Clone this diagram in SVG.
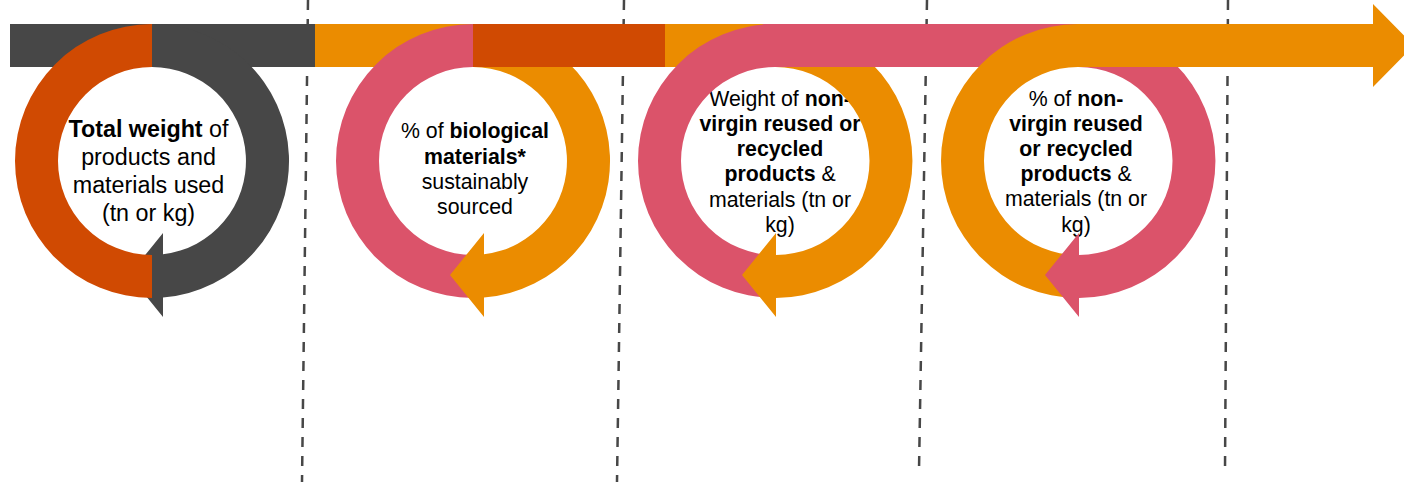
<svg xmlns="http://www.w3.org/2000/svg" width="1404" height="488" viewBox="0 0 1404 488">
<style>
.dash{stroke:#474747;stroke-width:2.5;stroke-dasharray:10 9;fill:none}
.dk{fill:#474747}
.ro{fill:#D04A02}
.or{fill:#EB8C00}
.pk{fill:#DB536A}
.t{font-family:"Liberation Sans",Arial,Helvetica,sans-serif;fill:#000;text-anchor:middle}
.t1{font-size:23.3px}
.t2{font-size:21.3px}
.b{font-weight:bold}
</style>
<rect width="1404" height="488" fill="#fff"/>
<g id="separators">
<line class="dash" x1="308" y1="0" x2="302" y2="482"/>
<line class="dash" x1="624" y1="0" x2="617" y2="482"/>
<line class="dash" x1="927" y1="0" x2="919" y2="470"/>
<line class="dash" x1="1228" y1="0" x2="1225" y2="470"/>
</g>
<g id="node1">
<rect class="dk" x="10" y="24" width="305" height="43"/>
<path class="dk" d="M152,24 A137,137 0 0 1 163,297.56 L163,317 L129,275 L163,233 L163,254.35 A94,94 0 0 0 152,67 Z"/>
<path class="ro" d="M152,24 A137,137 0 0 0 152,298 L152,255 A94,94 0 0 1 152,67 Z"/>
<text class="t t1"><tspan x="148.5" y="136.5"><tspan class="b">Total weight</tspan> of</tspan><tspan x="148.5" y="164.8">products and</tspan><tspan x="148.5" y="193">materials used</tspan><tspan x="148.5" y="221.3">(tn or kg)</tspan></text>
</g>
<g id="node2">
<rect class="or" x="315" y="24" width="158" height="43"/>
<text class="t t2"><tspan x="475" y="138.3">% of <tspan class="b">biological</tspan></tspan><tspan x="475" y="163.5" class="b">materials*</tspan><tspan x="475" y="188.8">sustainably</tspan><tspan x="475" y="214">sourced</tspan></text>
<path class="pk" d="M473,24 A137,137 0 0 0 473,298 L473,255 A94,94 0 0 1 473,67 Z"/>
<path class="or" d="M473,24 A137,137 0 0 1 484,297.56 L484,317 L450,275 L484,233 L484,254.35 A94,94 0 0 0 473,67 Z"/>
<rect class="ro" x="473" y="24" width="192" height="43"/>
</g>
<g id="node3">
<rect class="or" x="665" y="24" width="110" height="43"/>
<text class="t t2"><tspan x="780" y="105.8">Weight of <tspan class="b">non-</tspan></tspan><tspan x="780" y="131" class="b">virgin reused or</tspan><tspan x="780" y="156.2" class="b">recycled</tspan><tspan x="780" y="181.4"><tspan class="b">products</tspan> &amp;</tspan><tspan x="780" y="206.6">materials (tn or</tspan><tspan x="780" y="231.8">kg)</tspan></text>
<path class="pk" d="M775,24 A137,137 0 0 0 775,298 L775,255 A94,94 0 0 1 775,67 Z"/>
<path class="or" d="M775,24 A137,137 0 0 1 776,298 L776,317 L742,275 L776,233 L776,255 A94,94 0 0 0 775,67 Z"/>
</g>
<g id="node4">
<rect class="pk" x="763" y="24" width="315" height="43"/>
<text class="t t2"><tspan x="1076" y="105.5">% of <tspan class="b">non-</tspan></tspan><tspan x="1076" y="130.7" class="b">virgin reused</tspan><tspan x="1076" y="155.9" class="b">or recycled</tspan><tspan x="1076" y="181.1"><tspan class="b">products</tspan> &amp;</tspan><tspan x="1076" y="206.3">materials (tn or</tspan><tspan x="1076" y="231.5">kg)</tspan></text>
<path class="or" d="M1078,24 A137,137 0 0 0 1078,298 L1078,255 A94,94 0 0 1 1078,67 Z"/>
<path class="pk" d="M1078,24 A137,137 0 0 1 1079,298 L1079,317 L1045,275 L1079,233 L1079,255 A94,94 0 0 0 1078,67 Z"/>
</g>
<g id="connectors">
<polygon class="or" points="1078,24 1373,24 1373,4 1414,45.5 1373,87 1373,67 1078,67"/>
</g>
</svg>
